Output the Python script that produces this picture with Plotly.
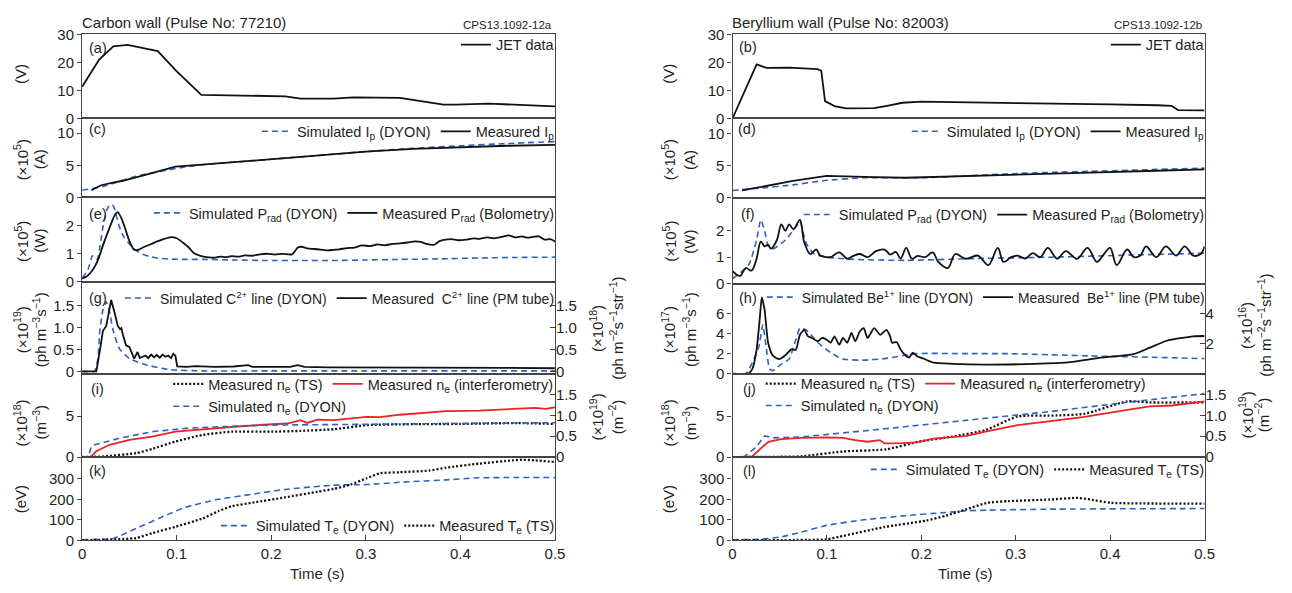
import plotly.graph_objects as go

W, H = 1292, 593
FONT = "Liberation Sans, Arial, Helvetica, sans-serif"
TXT = "#231f20"
BLUE = "#2f64be"
RED = "#ec2227"
BLACK = "#111111"
AXC = "#444444"

# ---------------- data ----------------
# (a) loop voltage, carbon wall
t_a = [0, 0.018, 0.033, 0.048, 0.080, 0.099, 0.126, 0.162, 0.215, 0.231, 0.266, 0.287, 0.336, 0.382, 0.395, 0.43, 0.46, 0.5]
V_a = [11.3, 21.0, 25.7, 26.2, 24.0, 17.1, 8.4, 8.2, 7.9, 7.1, 7.1, 7.5, 7.3, 4.9, 4.9, 5.3, 4.8, 4.3]
# (b) loop voltage, beryllium wall
t_b = [0, 0.0255, 0.036, 0.06, 0.09, 0.094, 0.098, 0.108, 0.12, 0.15, 0.165, 0.18, 0.2, 0.25, 0.3, 0.35, 0.4, 0.45, 0.465, 0.472, 0.5]
V_b = [0, 19.3, 18.0, 18.1, 17.6, 17.0, 6.2, 4.4, 3.6, 3.7, 4.6, 5.6, 6.0, 5.8, 5.4, 5.2, 5.0, 4.7, 4.5, 3.0, 2.9]

# (c) plasma current (x1e5 A)
t_c_sim = [0, 0.022, 0.057, 0.099, 0.127, 0.2, 0.25, 0.3, 0.35, 0.4, 0.45, 0.5]
Ip_c_sim = [1.13, 1.7, 3.3, 4.5, 5.1, 5.95, 6.55, 7.15, 7.65, 8.05, 8.4, 8.7]
t_c_meas = [0.0098, 0.02, 0.0325, 0.043, 0.064, 0.0987, 0.127, 0.2, 0.25, 0.3, 0.35, 0.4, 0.45, 0.5]
Ip_c_meas = [1.13, 1.9, 2.3, 2.6, 3.4, 4.8, 5.1, 5.95, 6.55, 7.15, 7.55, 7.85, 8.05, 8.2]
# (d)
t_d_sim = [0, 0.03, 0.064, 0.0998, 0.139, 0.2, 0.25, 0.292, 0.34, 0.379, 0.44, 0.5]
Ip_d_sim = [1.13, 1.5, 2.0, 2.7, 3.1, 3.1, 3.4, 3.7, 3.95, 4.1, 4.35, 4.6]
t_d_meas = [0.01, 0.034, 0.064, 0.0998, 0.117, 0.15, 0.183, 0.24, 0.292, 0.34, 0.379, 0.44, 0.5]
Ip_d_meas = [1.13, 1.8, 2.6, 3.4, 3.3, 3.2, 3.1, 3.3, 3.5, 3.7, 3.9, 4.15, 4.4]

# (e) radiated power (x1e5 W)
t_e_sim = [0, 0.0063, 0.0108, 0.0135, 0.016, 0.019, 0.022, 0.026, 0.0296, 0.033, 0.0365, 0.0395, 0.044, 0.05, 0.057, 0.064, 0.072, 0.081, 0.095, 0.11, 0.127, 0.16, 0.196, 0.23, 0.266, 0.3, 0.336, 0.38, 0.42, 0.46, 0.5]
P_e_sim = [0.14, 0.45, 0.93, 0.85, 0.8, 1.3, 1.95, 2.55, 2.75, 2.7, 2.3, 1.95, 1.6, 1.35, 1.12, 0.98, 0.9, 0.84, 0.81, 0.8, 0.8, 0.78, 0.76, 0.76, 0.76, 0.78, 0.8, 0.82, 0.85, 0.87, 0.88]
t_e_meas = [0, 0.005, 0.0115, 0.017, 0.022, 0.027, 0.031, 0.035, 0.0377, 0.041, 0.045, 0.05, 0.055, 0.06, 0.066, 0.072, 0.078, 0.086, 0.094, 0.1, 0.106, 0.112, 0.118, 0.126, 0.134, 0.14, 0.146, 0.152, 0.158, 0.165, 0.172, 0.18, 0.188, 0.196, 0.204, 0.212, 0.222, 0.228, 0.232, 0.238, 0.245, 0.252, 0.26, 0.266, 0.272, 0.28, 0.288, 0.296, 0.304, 0.312, 0.32, 0.328, 0.336, 0.344, 0.352, 0.358, 0.364, 0.372, 0.378, 0.384, 0.39, 0.398, 0.406, 0.414, 0.42, 0.428, 0.436, 0.444, 0.451, 0.458, 0.465, 0.471, 0.477, 0.483, 0.489, 0.495, 0.5]
P_e_meas = [0.12, 0.2, 0.44, 0.8, 1.3, 1.75, 2.1, 2.4, 2.48, 2.3, 1.95, 1.45, 1.14, 1.15, 1.25, 1.33, 1.42, 1.52, 1.59, 1.55, 1.41, 1.25, 1.03, 0.92, 0.87, 0.86, 0.9, 0.88, 0.92, 0.9, 0.94, 0.93, 0.98, 1.0, 0.97, 1.0, 0.98, 1.22, 1.25, 1.19, 1.17, 1.15, 1.12, 1.14, 1.16, 1.2, 1.22, 1.3, 1.27, 1.33, 1.3, 1.35, 1.37, 1.4, 1.44, 1.42, 1.35, 1.32, 1.45, 1.5, 1.52, 1.48, 1.5, 1.55, 1.53, 1.58, 1.55, 1.6, 1.65, 1.58, 1.62, 1.57, 1.6, 1.62, 1.5, 1.52, 1.44]
# (f)
t_f_sim = [0, 0.0016, 0.017, 0.0255, 0.030, 0.034, 0.038, 0.043, 0.056, 0.069, 0.0714, 0.078, 0.0866, 0.117, 0.183, 0.248, 0.336, 0.423, 0.5]
P_f_sim = [0.2, 0.23, 0.70, 1.65, 2.41, 2.0, 1.41, 1.32, 1.65, 2.24, 2.35, 1.53, 1.12, 0.94, 0.88, 0.94, 1.0, 1.08, 1.15]
t_f_meas = [0, 0.008, 0.014, 0.02, 0.025, 0.03, 0.034, 0.0377, 0.0407, 0.047, 0.0517, 0.056, 0.06, 0.0645, 0.0714, 0.0758, 0.0823, 0.0886, 0.093, 0.0998, 0.104, 0.113, 0.1215, 0.128, 0.135, 0.143, 0.152, 0.161, 0.167, 0.173, 0.178, 0.184, 0.19, 0.196, 0.204, 0.212, 0.218, 0.228, 0.236, 0.247, 0.26, 0.271, 0.281, 0.287, 0.295, 0.302, 0.31, 0.318, 0.326, 0.334, 0.344, 0.353, 0.365, 0.376, 0.386, 0.393, 0.4, 0.407, 0.418, 0.425, 0.432, 0.438, 0.449, 0.459, 0.47, 0.479, 0.488, 0.496, 0.5]
P_f_meas = [0.47, 0.29, 0.59, 0.49, 0.88, 1.59, 1.41, 1.47, 1.32, 1.65, 2.24, 2.0, 2.24, 2.06, 2.41, 1.59, 1.12, 1.29, 1.06, 1.0, 1.0, 1.18, 0.94, 1.05, 1.12, 1.0, 1.23, 1.29, 1.1, 1.2, 0.95, 1.35, 0.94, 1.05, 1.0, 1.18, 0.82, 0.59, 1.12, 0.94, 1.06, 0.7, 1.35, 0.82, 1.0, 1.06, 0.95, 1.15, 1.0, 1.35, 0.94, 1.23, 0.94, 1.35, 0.82, 1.1, 1.35, 0.7, 1.29, 1.0, 1.06, 1.41, 1.0, 1.41, 1.06, 1.41, 1.06, 1.12, 1.41]

# (g) C2+ line (x1e19 ph m-3 s-1)
t_g_sim = [0, 0.013, 0.0167, 0.0185, 0.022, 0.0255, 0.029, 0.0324, 0.0395, 0.05, 0.0673, 0.092, 0.127, 0.2, 0.3, 0.4, 0.5]
L_g_sim = [0, 0, 0.29, 0.88, 1.4, 1.58, 1.36, 0.96, 0.51, 0.29, 0.15, 0.04, 0.01, 0.01, 0.01, 0.01, 0.01]
t_g_meas = [0, 0.015, 0.0185, 0.022, 0.0255, 0.028, 0.0307, 0.034, 0.0377, 0.04, 0.0415, 0.0435, 0.0464, 0.05, 0.053, 0.055, 0.0586, 0.061, 0.064, 0.067, 0.07, 0.073, 0.076, 0.079, 0.082, 0.085, 0.088, 0.091, 0.094, 0.0965, 0.0987, 0.1005, 0.11, 0.12, 0.14, 0.16, 0.1755, 0.18, 0.2, 0.22, 0.228, 0.235, 0.26, 0.3, 0.35, 0.4, 0.45, 0.5]
L_g_meas = [0, 0, 0.44, 0.92, 1.03, 1.32, 1.62, 1.36, 1.03, 0.96, 0.98, 0.8, 0.59, 0.55, 0.4, 0.29, 0.44, 0.3, 0.33, 0.36, 0.3, 0.38, 0.32, 0.37, 0.31, 0.38, 0.33, 0.36, 0.3, 0.4, 0.35, 0.11, 0.1, 0.12, 0.1, 0.11, 0.14, 0.1, 0.1, 0.1, 0.14, 0.1, 0.09, 0.09, 0.09, 0.08, 0.08, 0.07]
# (h) Be1+ line (x1e17 ph m-3 s-1)
t_h_sim = [0, 0.014, 0.021, 0.028, 0.032, 0.0355, 0.0393, 0.043, 0.0517, 0.06, 0.067, 0.0714, 0.078, 0.0906, 0.104, 0.117, 0.139, 0.161, 0.195, 0.25, 0.292, 0.35, 0.379, 0.44, 0.5]
L_h_sim = [0, 0, 1.1, 2.75, 4.9, 2.75, 0.46, 0.3, 0.95, 1.45, 3.4, 4.56, 4.4, 3.1, 2.1, 1.45, 1.35, 1.5, 2.0, 2.0, 2.0, 1.85, 1.77, 1.65, 1.5]
t_h_meas = [0, 0.017, 0.021, 0.0255, 0.029, 0.031, 0.034, 0.0377, 0.043, 0.0496, 0.056, 0.0624, 0.067, 0.0714, 0.076, 0.08, 0.084, 0.0906, 0.095, 0.0998, 0.104, 0.108, 0.113, 0.117, 0.1215, 0.126, 0.13, 0.135, 0.139, 0.143, 0.15, 0.1565, 0.163, 0.167, 0.169, 0.174, 0.178, 0.182, 0.187, 0.191, 0.195, 0.202, 0.213, 0.233, 0.268, 0.32, 0.355, 0.39, 0.425, 0.442, 0.46, 0.488, 0.5]
L_h_meas = [0, 0, 0.46, 2.4, 5.7, 7.67, 6.4, 3.1, 1.77, 1.45, 1.84, 2.43, 2.4, 3.9, 4.4, 3.74, 3.58, 3.25, 3.6, 3.4, 3.1, 3.74, 2.9, 3.58, 3.1, 4.1, 3.25, 4.25, 4.56, 3.58, 4.56, 3.9, 4.4, 3.74, 3.1, 3.15, 2.43, 1.94, 1.61, 2.1, 1.77, 1.51, 1.1, 0.98, 0.9, 0.98, 1.12, 1.6, 1.95, 2.6, 3.3, 3.75, 3.78]

# (i) electron density (x1e18 m-3)
t_i_ts = [0, 0.022, 0.057, 0.074, 0.0987, 0.127, 0.158, 0.2, 0.231, 0.266, 0.301, 0.336, 0.4, 0.46, 0.5]
ne_i_ts = [0, 0.08, 0.48, 1.0, 1.9, 2.7, 3.1, 3.1, 3.2, 3.4, 3.9, 4.0, 4.05, 4.15, 4.05]
t_i_int = [0, 0.0087, 0.015, 0.029, 0.05, 0.074, 0.0987, 0.127, 0.161, 0.196, 0.217, 0.231, 0.238, 0.249, 0.266, 0.301, 0.315, 0.336, 0.35, 0.385, 0.42, 0.455, 0.479, 0.49, 0.5]
ne_i_int = [0, 0, 0.71, 1.5, 2.1, 2.5, 3.1, 3.4, 3.7, 3.98, 4.1, 4.5, 4.17, 4.57, 4.5, 4.9, 4.88, 5.17, 5.29, 5.6, 5.68, 5.88, 6.0, 5.88, 6.07]
t_i_sim = [0, 0.0063, 0.0098, 0.0133, 0.0395, 0.074, 0.109, 0.144, 0.196, 0.266, 0.315, 0.4, 0.5]
ne_i_sim = [0, 0, 1.3, 1.5, 2.3, 3.1, 3.5, 3.7, 3.9, 3.97, 4.0, 4.1, 4.2]
# (j)
t_j_ts = [0, 0.0735, 0.117, 0.163, 0.198, 0.233, 0.268, 0.302, 0.344, 0.373, 0.418, 0.442, 0.5]
ne_j_ts = [0, 0.1, 0.68, 0.95, 1.9, 2.5, 3.3, 4.96, 5.08, 5.28, 6.8, 6.67, 6.67]
t_j_int = [0, 0.021, 0.03, 0.038, 0.0517, 0.0735, 0.1, 0.117, 0.13, 0.143, 0.156, 0.161, 0.18, 0.195, 0.213, 0.233, 0.248, 0.268, 0.302, 0.337, 0.373, 0.418, 0.442, 0.466, 0.5]
ne_j_int = [0, 0.08, 1.07, 1.87, 2.19, 2.35, 2.4, 2.35, 2.07, 1.87, 2.07, 1.67, 1.7, 1.8, 2.26, 2.5, 2.6, 3.1, 3.9, 4.4, 4.9, 5.75, 6.2, 6.3, 6.8]
t_j_sim = [0, 0.012, 0.0255, 0.034, 0.043, 0.0735, 0.161, 0.248, 0.336, 0.423, 0.5]
ne_j_sim = [0, 0, 1.27, 2.58, 2.35, 2.46, 3.45, 4.5, 5.55, 6.75, 7.75]

# (k) electron temperature (eV)
t_k_sim = [0, 0.022, 0.0325, 0.057, 0.092, 0.109, 0.144, 0.179, 0.214, 0.266, 0.301, 0.336, 0.385, 0.42, 0.5]
Te_k_sim = [3, 5, 8, 58, 129, 161, 200, 224, 248, 269, 272, 283, 295, 305, 306]
t_k_ts = [0, 0.057, 0.074, 0.0987, 0.127, 0.144, 0.158, 0.182, 0.214, 0.249, 0.266, 0.284, 0.301, 0.315, 0.336, 0.367, 0.385, 0.42, 0.455, 0.465, 0.479, 0.5]
Te_k_ts = [0, 11, 35, 66, 106, 142, 166, 185, 209, 237, 251, 272, 303, 327, 332, 340, 354, 374, 390, 393, 390, 382]
# (l)
t_l_sim = [0, 0.03, 0.052, 0.0735, 0.0998, 0.139, 0.183, 0.226, 0.248, 0.27, 0.336, 0.5]
Te_l_sim = [3, 5, 17, 41, 73, 100, 120, 136, 144, 147, 152, 155]
t_l_ts = [0, 0.0998, 0.113, 0.161, 0.205, 0.226, 0.248, 0.27, 0.292, 0.336, 0.366, 0.379, 0.401, 0.5]
Te_l_ts = [0, 5, 17, 65, 96, 120, 152, 183, 191, 199, 207, 199, 183, 179]

x_ticks = [0, 0.1, 0.2, 0.3, 0.4, 0.5]
x_tick_text = ["0", "0.1", "0.2", "0.3", "0.4", "0.5"]

# ---------------- layout helpers ----------------
def fx(p):
    return p / W

def fy(p):
    return 1 - p / H

XL = (79, 557)
XR = (736.5, 1213.7)
ROWS_L = [(26, 112.7), (112.7, 194), (194, 281), (281, 375.3), (375.3, 461.3), (461.3, 547)]
ROWS_R = [(26, 112.7), (112.7, 194.3), (194.3, 282.7), (282.7, 375.3), (375.3, 461.3), (461.3, 547)]

SOLID = dict(color=BLACK, width=1.8)
DASH = dict(color=BLUE, width=1.6, dash="6px,4px")
DOT = dict(color=BLACK, width=2.3, dash="2px,2px")
REDL = dict(color=RED, width=1.8)

fig = go.Figure()

def add(x, y, name, line, n, legend, smooth=0.0):
    ln = dict(line)
    if smooth:
        ln.update(shape="spline", smoothing=smooth)
    fig.add_trace(go.Scatter(x=x, y=y, mode="lines", name=name, line=ln,
                             xaxis="x" if n == 1 else f"x{n}",
                             yaxis="y" if n == 1 else f"y{n}",
                             legend=legend, showlegend=True))

# panel numbers: left 1..6 (a,c,e,g,i,k), right 7..12 (b,d,f,h,j,l)
add(t_a, V_a, "JET data", SOLID, 1, "legend")
add(t_c_sim, Ip_c_sim, "Simulated I<sub>p</sub> (DYON)", DASH, 2, "legend2", 0.5)
add(t_c_meas, Ip_c_meas, "Measured I<sub>p</sub>", SOLID, 2, "legend2")
add(t_e_sim, P_e_sim, "Simulated P<sub>rad</sub> (DYON)", DASH, 3, "legend3", 0.6)
add(t_e_meas, P_e_meas, "Measured P<sub>rad</sub> (Bolometry)", SOLID, 3, "legend3", 0.6)
add(t_g_sim, L_g_sim, "Simulated C<sup>2+</sup> line (DYON)", DASH, 4, "legend4", 0.5)
add(t_g_meas, L_g_meas, "Measured  C<sup>2+</sup> line (PM tube)", SOLID, 4, "legend4")
add(t_i_ts, ne_i_ts, "Measured n<sub>e</sub> (TS)", DOT, 5, "legend5", 0.5)
add(t_i_int, ne_i_int, "Measured n<sub>e</sub> (interferometry)", REDL, 5, "legend5")
add(t_i_sim, ne_i_sim, "Simulated n<sub>e</sub> (DYON)", DASH, 5, "legend6")
add(t_k_sim, Te_k_sim, "Simulated T<sub>e</sub> (DYON)", DASH, 6, "legend7", 0.5)
add(t_k_ts, Te_k_ts, "Measured T<sub>e</sub> (TS)", DOT, 6, "legend7", 0.5)

add(t_b, V_b, "JET data", SOLID, 7, "legend8")
add(t_d_sim, Ip_d_sim, "Simulated I<sub>p</sub> (DYON)", DASH, 8, "legend9", 0.5)
add(t_d_meas, Ip_d_meas, "Measured I<sub>p</sub>", SOLID, 8, "legend9")
add(t_f_sim, P_f_sim, "Simulated P<sub>rad</sub> (DYON)", DASH, 9, "legend10", 0.6)
add(t_f_meas, P_f_meas, "Measured P<sub>rad</sub> (Bolometry)", SOLID, 9, "legend10", 1.0)
add(t_h_sim, L_h_sim, "Simulated Be<sup>1+</sup> line (DYON)", DASH, 10, "legend11", 0.5)
add(t_h_meas, L_h_meas, "Measured  Be<sup>1+</sup> line (PM tube)", SOLID, 10, "legend11", 0.6)
add(t_j_ts, ne_j_ts, "Measured n<sub>e</sub> (TS)", DOT, 11, "legend12", 0.5)
add(t_j_int, ne_j_int, "Measured n<sub>e</sub> (interferometry)", REDL, 11, "legend12")
add(t_j_sim, ne_j_sim, "Simulated n<sub>e</sub> (DYON)", DASH, 11, "legend13")
add(t_l_sim, Te_l_sim, "Simulated T<sub>e</sub> (DYON)", DASH, 12, "legend14", 0.5)
add(t_l_ts, Te_l_ts, "Measured T<sub>e</sub> (TS)", DOT, 12, "legend14", 0.5)

# empty traces to carry the secondary (right-hand) axes
for xa, ya in [("x4", "y13"), ("x5", "y14"), ("x10", "y15"), ("x11", "y16")]:
    fig.add_trace(go.Scatter(x=[], y=[], xaxis=xa, yaxis=ya, showlegend=False, hoverinfo="skip"))

Y_SPECS_L = [
    dict(range=[0, 30], tickvals=[0, 10, 20, 30]),
    dict(range=[0, 12.3], tickvals=[0, 5, 10]),
    dict(range=[0, 3.0], tickvals=[0, 1, 2]),
    dict(range=[-0.05, 2.03], tickvals=[0, 0.5, 1.0, 1.5], ticktext=["0", "0.5", "1.0", "1.5"]),
    dict(range=[0, 10.2], tickvals=[0, 5]),
    dict(range=[0, 406], tickvals=[0, 100, 200, 300]),
]
Y_SPECS_R = [
    dict(range=[0, 30], tickvals=[0, 10, 20, 30]),
    dict(range=[0, 12.3], tickvals=[0, 5, 10]),
    dict(range=[0, 3.25], tickvals=[0, 1, 2]),
    dict(range=[0, 9.05], tickvals=[0, 2, 4, 6]),
    dict(range=[0, 10.2], tickvals=[0, 5]),
    dict(range=[0, 406], tickvals=[0, 100, 200, 300]),
]

layout = {}
tickfont = dict(family=FONT, size=15, color=TXT)
for col, (xdom, rows, yspecs) in enumerate([(XL, ROWS_L, Y_SPECS_L), (XR, ROWS_R, Y_SPECS_R)]):
    for r in range(6):
        n = col * 6 + r + 1
        xk = "xaxis" if n == 1 else f"xaxis{n}"
        yk = "yaxis" if n == 1 else f"yaxis{n}"
        bottom = (r == 5)
        layout[xk] = dict(domain=[fx(xdom[0]), fx(xdom[1])], anchor="y" if n == 1 else f"y{n}",
                          range=[0, 0.5], showline=True, mirror=True, linecolor=AXC, linewidth=1.3,
                          showgrid=False, zeroline=False,
                          ticks="inside" if bottom else "", ticklen=5, tickcolor=AXC,
                          tickvals=x_ticks, ticktext=x_tick_text,
                          showticklabels=bottom, tickfont=tickfont)
        ys = yspecs[r]
        layout[yk] = dict(domain=[fy(rows[r][1]), fy(rows[r][0])], anchor="x" if n == 1 else f"x{n}",
                          range=ys["range"], tickvals=ys["tickvals"], ticktext=ys.get("ticktext"),
                          showline=True, mirror=True, linecolor=AXC, linewidth=1.3,
                          showgrid=False, zeroline=False, ticks="outside", ticklen=4, tickcolor=AXC,
                          tickfont=tickfont)

RIGHT_AX = {
    "yaxis13": dict(overlaying="y4", anchor="x4", range=[-0.05, 2.03], tickvals=[0, 0.5, 1.0, 1.5], ticktext=["0", "0.5", "1.0", "1.5"]),
    "yaxis14": dict(overlaying="y5", anchor="x5", range=[0, 2.0], tickvals=[0, 0.5, 1.0, 1.5], ticktext=["0", "0.5", "1.0", "1.5"]),
    "yaxis15": dict(overlaying="y10", anchor="x10", range=[0, 6.0], tickvals=[2, 4]),
    "yaxis16": dict(overlaying="y11", anchor="x11", range=[0, 2.0], tickvals=[0, 0.5, 1.0, 1.5], ticktext=["0", "0.5", "1.0", "1.5"]),
}
for k, v in RIGHT_AX.items():
    v.update(side="right", showline=False, showgrid=False, zeroline=False, ticks="inside",
             ticklen=5, tickcolor=AXC, tickfont=tickfont)
    layout[k] = v

# legends
def leg(x, y, xanchor, size=14.5):
    return dict(x=fx(x), y=fy(y), xanchor=xanchor, yanchor="middle", orientation="h",
                bgcolor="rgba(0,0,0,0)", borderwidth=0, itemwidth=30, tracegroupgap=0,
                font=dict(family=FONT, size=size, color=TXT), traceorder="normal", visible=True)

layout["legend"] = leg(562, 36.7, "right")
layout["legend2"] = leg(562, 126, "right")
layout["legend3"] = leg(562, 210, "right")
layout["legend4"] = leg(562, 298, "right", 14)
layout["legend5"] = leg(166, 386, "left")
layout["legend6"] = leg(166, 409, "left")
layout["legend7"] = leg(562, 532, "right")
layout["legend8"] = leg(1219, 36.7, "right")
layout["legend9"] = leg(1219, 126, "right")
layout["legend10"] = leg(1219, 211.7, "right")
layout["legend11"] = leg(1219, 296.7, "right", 13.8)
layout["legend12"] = leg(765, 385.7, "left")
layout["legend13"] = leg(765, 408.3, "left")
layout["legend14"] = leg(1219, 474, "right")

# text annotations
ann = []
def text(s, x, y, size=15, xanchor="center", angle=0):
    ann.append(dict(text=s, x=fx(x), y=fy(y), xref="paper", yref="paper", showarrow=False,
                    xanchor=xanchor, yanchor="middle", textangle=angle,
                    font=dict(family=FONT, size=size, color=TXT)))

text("Carbon wall (Pulse No: 77210)", 77, 14, 15, "left")
text("Beryllium wall (Pulse No: 82003)", 734, 14, 15, "left")
text("CPS13.1092-12a", 556, 16.7, 11.5, "right")
text("CPS13.1092-12b", 1213, 16.7, 11.5, "right")

for lab, x, y in [("(a)", 84, 40), ("(c)", 84, 124), ("(e)", 84, 210.7), ("(g)", 84, 298), ("(i)", 86, 391), ("(k)", 84, 476),
                  ("(b)", 741, 39), ("(d)", 740, 124), ("(f)", 743, 211), ("(h)", 741, 298), ("(j)", 745, 391), ("(l)", 745, 476)]:
    text(lab, x, y, 14.5, "left")

def ytitle(lines, x0, dx, y):
    for i, s in enumerate(lines):
        text(s, x0 + i * dx, y, 15, "center", -90)

for off, x1, x2 in [(0, 17, 19), (655, 672, 21)]:
    ytitle(["(V)"], 16 + off, 0, 67)
    ytitle(["(×10<sup>5</sup>)", "(A)"], x1, x2, 155)
    ytitle(["(×10<sup>5</sup>)", "(W)"], x1, x2, 239)
    ytitle(["(×10<sup>18</sup>)", "(m<sup>−3</sup>)"], x1, x2, 426)
    ytitle(["(eV)"], 17 + off, 0, 505)
ytitle(["(×10<sup>19</sup>)", "(ph m<sup>−3</sup>s<sup>−1</sup>)"], 17, 19, 330)
ytitle(["(×10<sup>17</sup>)", "(ph m<sup>−3</sup>s<sup>−1</sup>)"], 672, 21, 330)
ytitle(["(×10<sup>18</sup>)", "(ph m<sup>−2</sup>s<sup>−1</sup>str<sup>−1</sup>)"], 599, 20, 329)
ytitle(["(×10<sup>19</sup>)", "(m<sup>−2</sup>)"], 599, 20, 420)
ytitle(["(×10<sup>16</sup>)", "(ph m<sup>−2</sup>s<sup>−1</sup>str<sup>−1</sup>)"], 1255, 19, 326)
ytitle(["(×10<sup>19</sup>)", "(m<sup>−2</sup>)"], 1255, 16, 418)

text("Time (s)", 316, 581, 15)
text("Time (s)", 972, 581, 15)

fig.update_layout(**layout)
fig.update_layout(width=W, height=H, margin=dict(l=0, r=0, t=0, b=0, pad=0),
                  paper_bgcolor="white", plot_bgcolor="rgba(0,0,0,0)",
                  font=dict(family=FONT, size=15, color=TXT), annotations=ann,
                  hovermode=False, showlegend=True)

fig.write_html("out.html")
